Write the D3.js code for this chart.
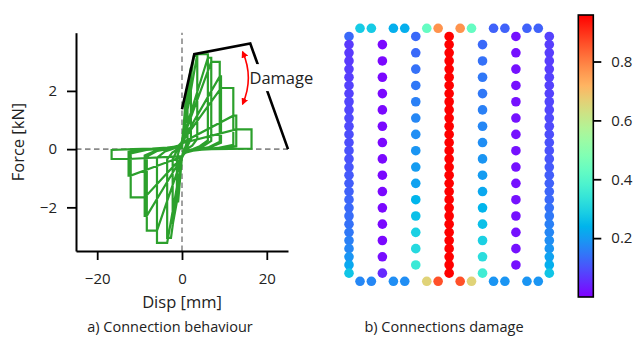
<!DOCTYPE html>
<html><head><meta charset="utf-8">
<script src="https://cdn.jsdelivr.net/npm/d3@7"></script>
<style>
body{margin:0;background:#fff}
svg{display:block;font-family:'Open Sans',sans-serif}
</style></head><body>
<svg id="c" width="639" height="340"></svg>
<script>
// ---------- left panel data ----------
const dispTicks = [-20, 0, 20];
const forceTicks = [-2, 0, 2];
const envelope = [[0,1.37],[2.9,3.26],[16.1,3.63],[25,0]];
const halfCycles = [
  [[0,0],[0.1,0.2],[1.0,2.0],[1.3,2.0],[1.3,0.3],[0.8,0.08],[0.3,-0.05],[0,-0.25]],
  [[-0.9,-1.8],[-1.2,-1.8],[-1.2,-0.3],[-0.7,-0.05],[-0.3,0.08],[0,0.25]],
  [[1.3,2.0],[2.1,2.8],[2.1,0.35],[1.3,0.1],[0.6,-0.03],[0.2,-0.12],[0,-0.28]],
  [[-1.2,-1.8],[-2.2,-2.6],[-2.2,-0.35],[-1.3,-0.08],[-0.6,0.04],[-0.2,0.13],[0,0.28]],
  [[2.8,3.2],[3.6,3.2],[3.6,0.35],[2.4,0.12],[1.4,0.03],[0.7,-0.05],[0.25,-0.15],[0,-0.3]],
  [[-2.6,-3.05],[-3.5,-3.05],[-3.5,-0.35],[-2.3,-0.12],[-1.3,-0.03],[-0.6,0.05],[-0.2,0.15],[0,0.28]],
  [[3.6,3.26],[6.1,3.26],[6.1,0.3],[4.2,0.1],[2.6,0.0],[1.3,-0.06],[0.5,-0.14],[0,-0.3]],
  [[-3.5,-3.22],[-5.9,-3.22],[-5.9,-0.3],[-4.0,-0.08],[-2.4,0.0],[-1.2,0.06],[-0.4,0.14],[0,0.28]],
  [[6.1,3.14],[6.9,3.14],[6.9,0.28],[4.8,0.08],[3.0,-0.01],[1.5,-0.07],[0.5,-0.15],[0,-0.3]],
  [[-5.9,-2.8],[-8.3,-2.8],[-8.3,-0.25],[-5.8,-0.06],[-3.6,0.0],[-1.8,0.05],[-0.6,0.13],[0,0.26]],
  [[6.9,3.0],[8.9,3.0],[8.9,0.25],[6.2,0.06],[3.8,-0.01],[1.9,-0.06],[0.6,-0.14],[0,-0.28]],
  [[-8.3,-2.29],[-8.8,-2.29],[-8.8,-0.22],[-6.1,-0.05],[-3.8,0.0],[-1.9,0.05],[-0.6,0.12],[0,0.25]],
  [[8.9,2.5],[9.2,2.5],[9.2,0.22],[6.4,0.05],[3.9,-0.01],[1.9,-0.06],[0.6,-0.13],[0,-0.27]],
  [[-8.8,-1.66],[-12.1,-1.66],[-12.1,-0.15],[-8.4,-0.03],[-5.2,0.01],[-2.6,0.05],[-0.8,0.12],[0,0.24]],
  [[9.2,2.1],[12.1,2.1],[12.1,0.15],[8.4,0.04],[5.2,-0.01],[2.6,-0.05],[0.8,-0.12],[0,-0.26]],
  [[-12.1,-0.91],[-12.6,-0.91],[-12.6,-0.1],[-8.8,-0.02],[-5.4,0.01],[-2.7,0.05],[-0.8,0.11],[0,0.22]],
  [[12.1,1.15],[12.8,1.15],[12.8,0.1],[8.9,0.03],[5.5,0.0],[2.7,-0.04],[0.8,-0.1],[0,-0.24]],
  [[-12.6,-0.34],[-16.6,-0.34],[-16.6,-0.03],[-11.5,0.0],[-7.0,0.02],[-3.5,0.05],[-1.0,0.1],[0,0.2]],
  [[12.8,0.68],[16.4,0.68],[16.4,0.02],[11.3,0.01],[7.0,0.0],[3.5,-0.03],[1.0,-0.08],[0,-0.2]]
];
const arrowEnds = [[14.3,3.34],[14.3,1.55]];
const arrowBendDisp = 17.0;
const damageText = {label:"Damage", d:15.9, f:2.44};

// ---------- right panel data ----------
const edgeX = [0.33,0.67,1.33,1.67,2.33,2.67,3.33,3.67,4.33,4.67,5.33,5.67];
const topDamage    = [0.28,0.28,0.23,0.23,0.43,0.77,0.77,0.43,0.12,0.12,0.12,0.12];
const bottomDamage = [0.17,0.17,0.18,0.18,0.66,0.86,0.86,0.66,0.19,0.19,0.19,0.19];
const col0Damage = [0.13,0.07,0.07,0.07,0.075,0.075,0.08,0.08,0.085,0.085,0.09,0.09,0.095,0.095,0.1,0.1,0.105,0.11,0.115,0.12,0.125,0.13,0.135,0.14,0.15,0.16,0.17,0.19,0.22,0.27];
const col1Damage = [0.01,0.01,0.01,0.01,0.01,0.01,0.01,0.01,0.01,0.01,0.01,0.01,0.01,0.015,0.05];
const col2Damage = [0.13,0.13,0.14,0.15,0.16,0.17,0.18,0.19,0.2,0.21,0.24,0.26,0.29,0.31,0.35];
const col3Damage = [0.958,0.958,0.958,0.958,0.958,0.958,0.958,0.958,0.958,0.958,0.958,0.958,0.958,0.958,0.958,0.958,0.958,0.958,0.958,0.958,0.958,0.958,0.958,0.958,0.958,0.958,0.958,0.958,0.958,0.958];
const col4Damage = [0.13,0.14,0.15,0.15,0.16,0.17,0.18,0.19,0.2,0.22,0.24,0.26,0.29,0.32,0.36];
const col5Damage = [0.02,0.02,0.02,0.02,0.02,0.02,0.02,0.02,0.02,0.02,0.02,0.02,0.02,0.02,0.02];
const col6Damage = [0.08,0.075,0.075,0.075,0.075,0.08,0.08,0.08,0.085,0.085,0.09,0.09,0.095,0.1,0.1,0.105,0.11,0.115,0.12,0.125,0.13,0.14,0.15,0.16,0.17,0.18,0.19,0.21,0.23,0.27];
const cbarTicks = [0.2,0.4,0.6,0.8];
const damageMin = 0, damageMax = 0.958;
const captions = ["a) Connection behaviour","b) Connections damage"];

// ---------- drawing ----------
const svg = d3.select("#c");
const x = d3.scaleLinear([-25,25],[76,288]);
const y = d3.scaleLinear([-3.5,4],[251,32.7]);
const L = svg.append("g");

// zero lines
L.append("line").attr("x1",x(-25)).attr("x2",x(25)).attr("y1",y(0)).attr("y2",y(0))
 .attr("stroke","#8a8a8a").attr("stroke-width",1.6).attr("stroke-dasharray","5.5,3.5");
L.append("line").attr("x1",x(0)).attr("x2",x(0)).attr("y1",y(-3.5)).attr("y2",y(4))
 .attr("stroke","#8a8a8a").attr("stroke-width",1.6).attr("stroke-dasharray","5.5,3.5");

const line = d3.line().x(d=>x(d[0])).y(d=>y(d[1]));
L.append("path").attr("d", line(halfCycles.flat())).attr("fill","none")
 .attr("stroke","#2ca02c").attr("stroke-width",2.2).attr("stroke-linejoin","miter").attr("stroke-miterlimit",3);
L.append("path").attr("d", line(envelope)).attr("fill","none")
 .attr("stroke","#000").attr("stroke-width",2.6);

// Damage text with white box
const dt = L.append("text").attr("x",x(damageText.d)).attr("y",y(damageText.f)+6)
 .attr("font-size",16.5).attr("fill","#222").text(damageText.label);
const bb = dt.node().getBBox();
L.insert("rect","text").attr("x",bb.x-3).attr("y",bb.y-2).attr("width",bb.width+6).attr("height",bb.height+4).attr("fill","#fff");

// red arrow
const defs = svg.append("defs");
defs.append("marker").attr("id","ah").attr("viewBox","0 0 10 10").attr("refX",8).attr("refY",5)
 .attr("markerWidth",7).attr("markerHeight",7).attr("markerUnits","userSpaceOnUse").attr("orient","auto-start-reverse")
 .append("path").attr("d","M0,0L10,5L0,10z").attr("fill","red");
const [a0,a1] = arrowEnds;
const cx = x(arrowBendDisp), cy = (y(a0[1])+y(a1[1]))/2;
L.append("path").attr("d",`M${x(a0[0])},${y(a0[1])}Q${cx},${cy} ${x(a1[0])},${y(a1[1])}`)
 .attr("fill","none").attr("stroke","red").attr("stroke-width",1.6)
 .attr("marker-start","url(#ah)").attr("marker-end","url(#ah)");

// axes
const yAxis = L.append("g").attr("transform",`translate(${x(-25)},0)`)
 .call(d3.axisLeft(y).tickValues(forceTicks).tickSize(9).tickSizeOuter(0).tickPadding(10).tickFormat(d3.format("d")));
const xAxis = L.append("g").attr("transform",`translate(0,${y(-3.5)})`)
 .call(d3.axisBottom(x).tickValues(dispTicks).tickSize(9).tickSizeOuter(0).tickPadding(13).tickFormat(d3.format("d")));
[yAxis,xAxis].forEach(g=>{
  g.select(".domain").attr("stroke","#000").attr("stroke-width",2);
  g.selectAll(".tick line").attr("stroke","#000").attr("stroke-width",1.8);
  g.selectAll(".tick text").attr("font-size",15).attr("fill","#222").attr("font-family","'Open Sans',sans-serif");
});
L.append("text").attr("transform",`translate(24,142) rotate(-90)`).attr("text-anchor","middle")
 .attr("font-size",16.5).attr("fill","#222").text("Force [kN]");
L.append("text").attr("x",182).attr("y",308).attr("text-anchor","middle")
 .attr("font-size",16.5).attr("fill","#222").text("Disp [mm]");

// ---------- right panel ----------
const rainbow = t => {
  t = Math.max(0,Math.min(1,t));
  const r = Math.min(1,Math.abs(2*t-0.5)), g = Math.sin(Math.PI*t), b = Math.cos(Math.PI*t/2);
  return d3.rgb(255*r,255*g,255*b).toString();
};
const color = d3.scaleSequential(rainbow).domain([damageMin,damageMax]);
const gx = d3.scaleLinear([0,6],[349,549.3]);
const gy = d3.scaleLinear([0,31],[28.3,281.3]);
const denseRows = d3.range(1,31), evenRows = d3.range(2,31,2), oddRows = d3.range(1,30,2);
const columns = [
  [0,denseRows,col0Damage],[1,evenRows,col1Damage],[2,oddRows,col2Damage],[3,denseRows,col3Damage],
  [4,evenRows,col4Damage],[5,oddRows,col5Damage],[6,denseRows,col6Damage]
];
const pts = [];
edgeX.forEach((ex,i)=>pts.push({c:ex,r:0,v:topDamage[i]}));
columns.forEach(([c,rows,vals])=>rows.forEach((r,i)=>pts.push({c,r,v:vals[i]})));
edgeX.forEach((ex,i)=>pts.push({c:ex,r:31,v:bottomDamage[i]}));
svg.append("g").selectAll("circle").data(pts).join("circle")
 .attr("cx",d=>gx(d.c)).attr("cy",d=>gy(d.r)).attr("r",4.8).attr("fill",d=>color(d.v));

// colorbar
const cy0 = 15, cy1 = 297, cbx = 578.3, cbw = 15;
const cs = d3.scaleLinear([damageMin,damageMax],[cy1,cy0]);
const grad = defs.append("linearGradient").attr("id","cg").attr("x1",0).attr("y1",1).attr("x2",0).attr("y2",0);
d3.range(0,1.0001,0.05).forEach(t=>grad.append("stop").attr("offset",t).attr("stop-color",rainbow(t)));
svg.append("rect").attr("x",cbx).attr("y",cy0).attr("width",cbw).attr("height",cy1-cy0)
 .attr("fill","url(#cg)").attr("stroke","#000").attr("stroke-width",1.6);
const cAxis = svg.append("g").attr("transform",`translate(${cbx+cbw},0)`)
 .call(d3.axisRight(cs).tickValues(cbarTicks).tickSize(8).tickPadding(10).tickFormat(d3.format(".1f")));
cAxis.select(".domain").remove();
cAxis.selectAll(".tick line").attr("stroke","#000").attr("stroke-width",1.8);
cAxis.selectAll(".tick text").attr("font-size",15).attr("fill","#222").attr("font-family","'Open Sans',sans-serif");

// captions
svg.append("text").attr("x",170).attr("y",332).attr("text-anchor","middle").attr("font-size",14.5).attr("fill","#222").text(captions[0]);
svg.append("text").attr("x",444).attr("y",332).attr("text-anchor","middle").attr("font-size",14.5).attr("fill","#222").text(captions[1]);
</script>
</body></html>
